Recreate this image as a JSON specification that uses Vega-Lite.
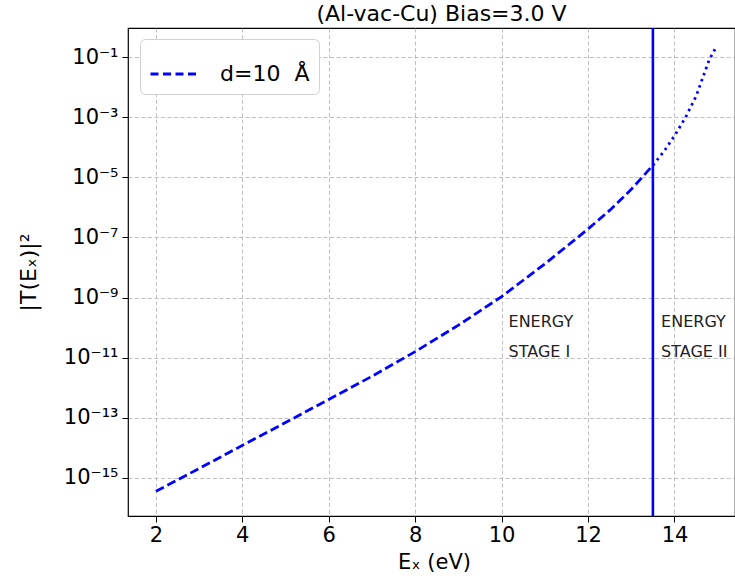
{
  "$schema": "https://vega.github.io/schema/vega-lite/v6.json",
  "width": 607,
  "height": 488,
  "autosize": {"type": "none"},
  "padding": {"left": 128, "top": 28, "right": 0, "bottom": 60},
  "background": "white",
  "title": {"text": "(Al-vac-Cu) Bias=3.0 V", "font": "DejaVu Sans", "fontSize": 22, "fontWeight": "normal", "color": "#000", "anchor": "middle", "dx": 10, "dy": 4, "offset": 5},
  "datasets": {
    "dashed": [
      {"E": 2.0, "T": 3.548e-16},
      {"E": 3.0, "T": 2.042e-15},
      {"E": 4.0, "T": 1.202e-14},
      {"E": 5.0, "T": 6.918e-14},
      {"E": 6.0, "T": 4.074e-13},
      {"E": 7.0, "T": 2.399e-12},
      {"E": 8.0, "T": 1.585e-11},
      {"E": 9.0, "T": 1.202e-10},
      {"E": 10.0, "T": 1.072e-9},
      {"E": 11.0, "T": 1.318e-8},
      {"E": 12.0, "T": 1.905e-7},
      {"E": 12.5, "T": 7.943e-7},
      {"E": 13.0, "T": 3.981e-6},
      {"E": 13.5, "T": 2.512e-5}
    ],
    "dotted": [
      {"E": 13.5, "T": 2.512e-5},
      {"E": 13.75, "T": 7.079e-5},
      {"E": 14.0, "T": 2.399e-4},
      {"E": 14.25, "T": 9.55e-4},
      {"E": 14.5, "T": 5.012e-3},
      {"E": 14.65, "T": 1.995e-2},
      {"E": 14.8, "T": 7.943e-2},
      {"E": 14.94, "T": 1.862e-1}
    ],
    "vline": [{"E": 13.5}],
    "notes": [
      {"E": 10.16, "T": 1.48e-10, "label": "ENERGY"},
      {"E": 10.16, "T": 1.58e-11, "label": "STAGE I"},
      {"E": 13.69, "T": 1.48e-10, "label": "ENERGY"},
      {"E": 13.69, "T": 1.58e-11, "label": "STAGE II"}
    ]
  },
  "layer": [
    {
      "data": {"name": "dashed"},
      "mark": {"type": "line", "strokeWidth": 2.8, "strokeDash": [9, 4], "clip": true},
      "encoding": {
        "x": {"field": "E", "type": "quantitative", "scale": {"domain": [1.355, 15.4], "nice": false, "zero": false},
          "axis": {"values": [2, 4, 6, 8, 10, 12, 14], "format": "d", "title": "Eₓ (eV)", "titleX": 306, "titleY": 46, "titleBaseline": "middle", "titleAlign": "center"}},
        "y": {"field": "T", "type": "quantitative", "scale": {"type": "log", "domain": [5.37e-17, 0.933], "nice": false},
          "axis": {"values": [1e-1, 1e-3, 1e-5, 1e-7, 1e-9, 1e-11, 1e-13, 1e-15],
            "labelExpr": "['10⁻¹','10⁻³','10⁻⁵','10⁻⁷','10⁻⁹','10⁻¹¹','10⁻¹³','10⁻¹⁵'][round((-log(datum.value)/LN10-1)/2)]",
            "title": "|T(Eₓ)|²", "titleX": -100, "titleY": 244, "titleAngle": -90, "titleAlign": "center", "titleBaseline": "middle", "titleFontSize": 22}},
        "color": {"datum": "d=10\u00a0\u00a0Å", "type": "nominal", "scale": {"range": ["#0000ff"]},
          "legend": {"orient": "none", "legendX": 12, "legendY": 11, "title": null, "symbolType": "stroke", "symbolSize": 2400, "symbolStrokeWidth": 2.8, "symbolDash": [8, 4.5], "labelFont": "DejaVu Sans", "labelFontSize": 22, "labelColor": "#000", "labelOffset": 19, "padding": 9, "strokeColor": "#d0d0d0", "fillColor": "white", "cornerRadius": 5}}
      }
    },
    {
      "data": {"name": "dotted"},
      "mark": {"type": "line", "strokeWidth": 2.8, "strokeDash": [2.5, 4], "color": "#0000ff", "clip": true},
      "encoding": {
        "x": {"field": "E", "type": "quantitative"},
        "y": {"field": "T", "type": "quantitative"}
      }
    },
    {
      "data": {"name": "vline"},
      "mark": {"type": "rule", "strokeWidth": 2.6, "color": "#0000ff"},
      "encoding": {
        "x": {"field": "E", "type": "quantitative"}
      }
    },
    {
      "data": {"name": "notes"},
      "mark": {"type": "text", "font": "DejaVu Sans", "fontSize": 16, "color": "#222", "align": "left", "baseline": "middle"},
      "encoding": {
        "x": {"field": "E", "type": "quantitative"},
        "y": {"field": "T", "type": "quantitative"},
        "text": {"field": "label", "type": "nominal"}
      }
    }
  ],
  "config": {
    "view": {"stroke": "#000", "strokeWidth": 1.2},
    "axis": {
      "domain": false,
      "grid": true,
      "gridColor": "#b0b0b0",
      "gridDash": [4, 2.5],
      "gridWidth": 0.8,
      "ticks": true,
      "tickColor": "#000",
      "tickSize": 6,
      "tickWidth": 1,
      "labelFont": "DejaVu Sans",
      "labelFontSize": 21,
      "labelColor": "#000",
      "titleFont": "DejaVu Sans",
      "titleFontSize": 21,
      "titleFontWeight": "normal",
      "titleColor": "#000"
    },
    "axisX": {"labelPadding": 2},
    "axisY": {"labelPadding": 4}
  }
}
